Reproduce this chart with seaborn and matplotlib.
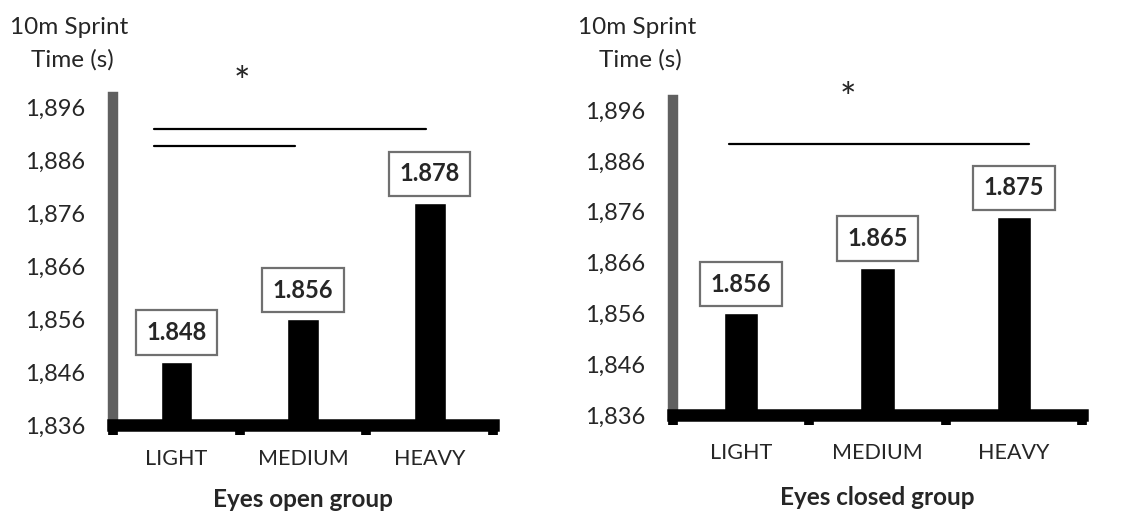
import matplotlib
matplotlib.use("Agg")
import matplotlib.pyplot as plt
import numpy as np
import pandas as pd
import seaborn as sns

# Data
categories = ["LIGHT", "MEDIUM", "HEAVY"]
eyes_open = [1.848, 1.856, 1.878]
eyes_closed = [1.856, 1.865, 1.875]
ytick_values = [1.836, 1.846, 1.856, 1.866, 1.876, 1.886, 1.896]
ytick_labels = ["1,836", "1,846", "1,856", "1,866", "1,876", "1,886", "1,896"]
group_labels = ["Eyes open group", "Eyes closed group"]
# significance brackets: (x start, x end, y) in data units
sig_open = [(-0.18, 1.97, 1.8920), (-0.18, 0.94, 1.8887)]
sig_closed = [(-0.09, 2.11, 1.8893)]
star_open = (0.52, 1.9005)
star_closed = (0.78, 1.8980)

sns.set_theme(style="white")
plt.rcParams["font.family"] = ["Lato", "DejaVu Sans"]

fig = plt.figure(figsize=(11.26, 5.14), dpi=100)
ax1 = fig.add_axes([0.1004, 0.173, 0.3375, 0.638])
ax2 = fig.add_axes([0.5977, 0.1926, 0.3632, 0.6128])


def draw_panel(ax, values, xlabel, sigs, star, xpad, lpad):
    df = pd.DataFrame({"load": categories, "time": values})
    sns.barplot(data=df, x="load", y="time", color="black", width=0.25,
                saturation=1, ax=ax)
    ax.set_ylim(1.836, 1.898)
    ax.set_xlim(-0.5, 2.5)
    ax.set_yticks(ytick_values)
    ax.set_yticklabels(ytick_labels, fontsize=17)
    ax.tick_params(axis="y", length=0, pad=20)
    ax.tick_params(axis="x", which="major", length=0, pad=xpad, labelsize=15.5)
    ax.set_xticks([-0.5, 0.5, 1.5, 2.5], minor=True)
    ax.tick_params(axis="x", which="minor", direction="out", length=7,
                   width=7, color="black", bottom=True)
    ax.set_xlabel(xlabel, fontsize=17.5, fontweight="bold", labelpad=lpad)
    ax.set_ylabel("")
    for s in ["top", "right"]:
        ax.spines[s].set_visible(False)
    ax.spines["left"].set_color("#606060")
    ax.spines["left"].set_linewidth(7.5)
    ax.spines["bottom"].set_color("black")
    ax.spines["bottom"].set_linewidth(9)
    ax.spines["bottom"].set_zorder(5)

    for i, v in enumerate(values):
        ax.annotate(f"{v:.3f}", xy=(i, v), xytext=(0, 21),
                    textcoords="offset points", ha="center", va="center",
                    fontsize=17, fontweight="bold",
                    bbox=dict(boxstyle="square,pad=0.45", fc="white",
                              ec="#707070", lw=1.6))
    for x0, x1, y in sigs:
        ax.plot([x0, x1], [y, y], color="black", lw=1.6, clip_on=False)
    ax.text(star[0], star[1], "*", ha="center", va="center", fontsize=28,
            clip_on=False)


draw_panel(ax1, eyes_open, group_labels[0], sig_open, star_open, 17, 14)
draw_panel(ax2, eyes_closed, group_labels[1], sig_closed, star_closed, 20, 17)

# y-axis titles placed above the axes like the original
for x_first, x_second in [(10, 72), (578, 640)]:
    fig.text(x_first / 1126, 1 - 27 / 514, "10m Sprint", fontsize=17.5,
             ha="left", va="center")
    fig.text(x_second / 1126, 1 - 60 / 514, "Time (s)", fontsize=17.5,
             ha="center", va="center")

fig.savefig("out.png", dpi=100)
